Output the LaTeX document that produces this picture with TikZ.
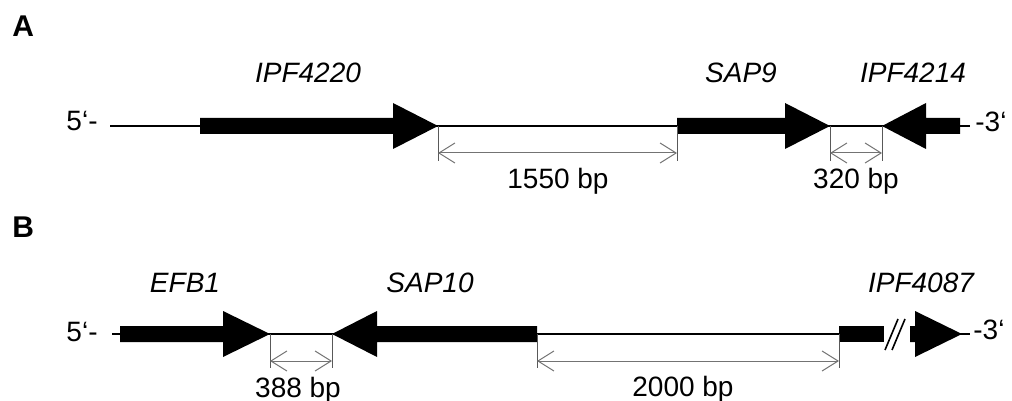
\documentclass[tikz,border=0pt]{standalone}
\usepackage{fontspec}
\setmainfont{Liberation Sans}
\usetikzlibrary{arrows.meta}

% gene drawn as a thick arrow pointing right: bar start, head base, tip, axis y
\newcommand\GeneRight[4]{\fill (#1,#4-8) -- (#2,#4-8) -- (#2,#4-23) -- (#3,#4) -- (#2,#4+23) -- (#2,#4+8) -- (#1,#4+8) -- cycle;}
% gene drawn as a thick arrow pointing left: tip, head base, bar end, axis y
\newcommand\GeneLeft[4]{\fill (#1,#4) -- (#2,#4-23) -- (#2,#4-8) -- (#3,#4-8) -- (#3,#4+8) -- (#2,#4+8) -- (#2,#4+23) -- cycle;}

\begin{document}
\begin{tikzpicture}[x=0.5pt,y=-0.5pt,
  dna/.style={line width=0.9pt},
  extline/.style={draw=black!65, line width=0.5pt},
  dimline/.style={draw=black!55, line width=0.5pt,
    {Straight Barb[length=8pt,width=10pt]}-{Straight Barb[length=8pt,width=10pt]}},
  txt/.style={inner sep=0pt, font=\fontsize{14}{16}\selectfont},
  gname/.style={txt, anchor=base, font=\fontsize{14}{16}\selectfont\itshape},
  bplabel/.style={txt, anchor=base},
  panel/.style={inner sep=0pt, anchor=base west, font=\fontsize{15}{17}\selectfont\bfseries},
  brk/.style={line width=0.8pt}]
\path[use as bounding box] (0,0) rectangle (1012,401);

% ---------------- panel A ----------------
\node[panel] (pA) at (12,37) {A};
\coordinate (a5) at (110,126);
\coordinate (a3) at (970,126);
\draw[dna] (a5) -- (a3);
\GeneRight{200}{393}{438}{126}
\GeneRight{677}{785}{830}{126}
\GeneLeft{882}{926}{960}{126}

\node[txt, anchor=base east] (a5lab) at (98,131) {5‘-};
\node[txt, anchor=base west] (a3lab) at (975,132) {-3‘};

\node[gname] (g4220) at (308,83) {IPF4220};
\node[gname] (gsap9) at (741,83) {SAP9};
\node[gname] (g4214) at (913,83) {IPF4214};

\coordinate (e1t) at (438,126); \coordinate (e1b) at (438,161);
\coordinate (e2t) at (677,126); \coordinate (e2b) at (677,161);
\coordinate (e3t) at (830,126); \coordinate (e3b) at (830,161);
\coordinate (e4t) at (882,126); \coordinate (e4b) at (882,161);
\draw[extline] (e1t) -- (e1b);
\draw[extline] (e2t) -- (e2b);
\draw[extline] (e3t) -- (e3b);
\draw[extline] (e4t) -- (e4b);
\coordinate (d1l) at (438,153); \coordinate (d1r) at (677,153);
\coordinate (d2l) at (830,153); \coordinate (d2r) at (882,153);
\draw[dimline] (d1l) -- (d1r);
\draw[dimline] (d2l) -- (d2r);
\node[bplabel] (bp1550) at (558,189) {1550 bp};
\node[bplabel] (bp320) at (856,189) {320 bp};

% ---------------- panel B ----------------
\node[panel] (pB) at (12,237) {B};
\coordinate (b5) at (112,334);
\coordinate (bbrkL) at (884,334);
\coordinate (bbrkR) at (910,334);
\coordinate (b3) at (970,334);
\draw[dna] (b5) -- (bbrkL);
\draw[dna] (bbrkR) -- (b3);
\GeneRight{120}{223}{270}{334}
\GeneLeft{332}{377}{537}{334}
\fill (839,326) rectangle (884,342);
\GeneRight{910}{915}{962}{334}
\draw[brk] (885,350) -- (898,319);
\draw[brk] (892,350) -- (905,319);

\node[txt, anchor=base east] (b5lab) at (98,341) {5‘-};
\node[txt, anchor=base west] (b3lab) at (973,339) {-3‘};

\node[gname] (gefb1) at (185,292) {EFB1};
\node[gname] (gsap10) at (430,292) {SAP10};
\node[gname] (g4087) at (921,292) {IPF4087};

\coordinate (f1t) at (270,334); \coordinate (f1b) at (270,368);
\coordinate (f2t) at (332,334); \coordinate (f2b) at (332,368);
\coordinate (f3t) at (537,334); \coordinate (f3b) at (537,368);
\coordinate (f4t) at (839,334); \coordinate (f4b) at (839,368);
\draw[extline] (f1t) -- (f1b);
\draw[extline] (f2t) -- (f2b);
\draw[extline] (f3t) -- (f3b);
\draw[extline] (f4t) -- (f4b);
\coordinate (g1l) at (270,361); \coordinate (g1r) at (332,361);
\coordinate (g2l) at (537,361); \coordinate (g2r) at (839,361);
\draw[dimline] (g1l) -- (g1r);
\draw[dimline] (g2l) -- (g2r);
\node[bplabel] (bp388) at (298,397) {388 bp};
\node[bplabel] (bp2000) at (683,396) {2000 bp};
\end{tikzpicture}
\end{document}
